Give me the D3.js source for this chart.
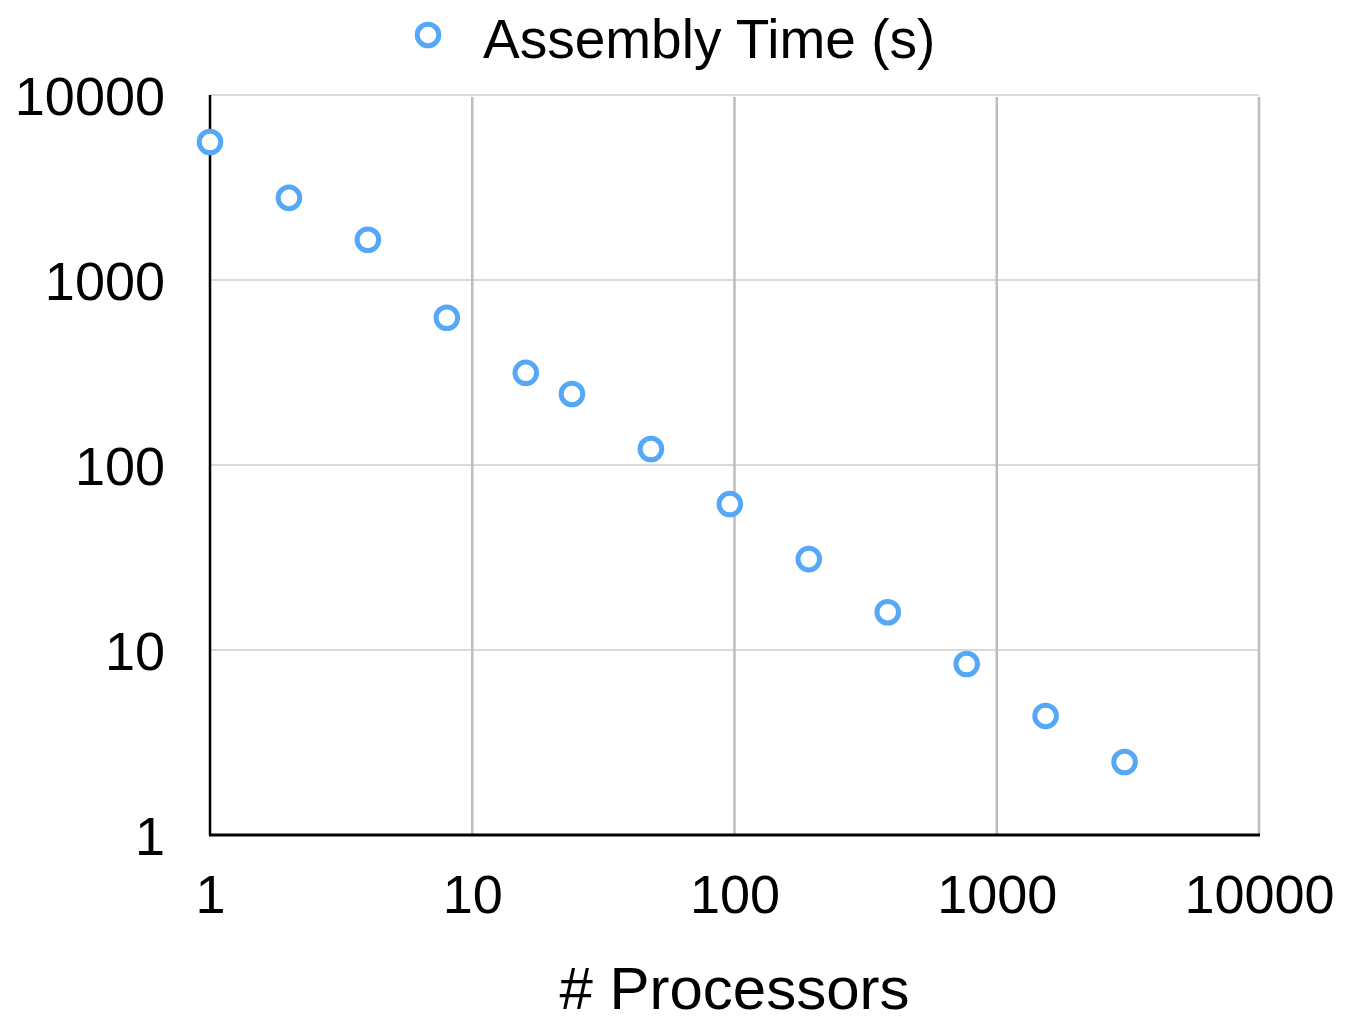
<!DOCTYPE html>
<html>
<head>
<meta charset="utf-8">
<script src="https://cdn.jsdelivr.net/npm/d3@7"></script>
<style>
  body { margin: 0; background: #fff; }
  text { font-family: "Liberation Sans", Helvetica, Arial, sans-serif; fill: #000; }
</style>
</head>
<body>
<div id="chart"></div>
<script>
var svgWidth = 1346;
var svgHeight = 1023;

// data
var processors = [1, 2, 4, 8, 16, 24, 48, 96, 192, 384, 768, 1536, 3072];
var assemblyTime = [5570, 2780, 1650, 625, 315, 242, 122, 61.5, 31, 16, 8.4, 4.4, 2.48];
var xTicks = [1, 10, 100, 1000, 10000];
var yTicks = [1, 10, 100, 1000, 10000];
var seriesName = "Assembly Time (s)";
var xTitle = "# Processors";

var plot = { left: 210, right: 1259, top: 95, bottom: 835 };
var pointColor = "#55a8f8";

var svg = d3.select("#chart").append("svg")
  .attr("width", svgWidth)
  .attr("height", svgHeight);

var xScale = d3.scaleLog()
  .domain([1, 10000])
  .range([plot.left, plot.right]);

var yScale = d3.scaleLog()
  .domain([1, 10000])
  .range([plot.bottom, plot.top]);

// horizontal grid
svg.append("g").selectAll("line")
  .data(yTicks.filter(d => d > 1))
  .enter().append("line")
  .attr("x1", plot.left).attr("x2", plot.right)
  .attr("y1", d => yScale(d)).attr("y2", d => yScale(d))
  .attr("stroke", "#cccccc")
  .attr("stroke-width", 1.5);

// vertical grid
svg.append("g").selectAll("line")
  .data(xTicks.filter(d => d > 1))
  .enter().append("line")
  .attr("x1", d => xScale(d)).attr("x2", d => xScale(d))
  .attr("y1", plot.top + 2).attr("y2", plot.bottom)
  .attr("stroke", "#bdbdbd")
  .attr("stroke-width", 2.5);

// axes (labels only, lines drawn below)
var yAxis = d3.axisLeft(yScale)
  .tickValues(yTicks)
  .tickFormat(d3.format("d"))
  .tickSize(0)
  .tickPadding(plot.left - 165);

var xAxis = d3.axisBottom(xScale)
  .tickValues(xTicks)
  .tickFormat(d3.format("d"))
  .tickSize(0)
  .tickPadding(40);

var gy = svg.append("g")
  .attr("transform", `translate(${plot.left}, 0)`)
  .call(yAxis);

var gx = svg.append("g")
  .attr("transform", `translate(0, ${plot.bottom})`)
  .call(xAxis);

[gx, gy].forEach(function(g) {
  g.select(".domain").remove();
  g.selectAll("text")
    .attr("font-family", "Liberation Sans, Helvetica, Arial, sans-serif")
    .attr("font-size", 54)
    .attr("fill", "#000");
});
gy.selectAll("text").attr("dy", "0.36em");

// axis lines
svg.append("line")
  .attr("x1", plot.left).attr("x2", plot.left)
  .attr("y1", plot.top).attr("y2", plot.bottom)
  .attr("stroke", "#000").attr("stroke-width", 2.5);

svg.append("line")
  .attr("x1", plot.left - 1).attr("x2", plot.right + 1)
  .attr("y1", plot.bottom).attr("y2", plot.bottom)
  .attr("stroke", "#000").attr("stroke-width", 3);

// points
svg.append("g").selectAll("circle")
  .data(processors)
  .enter().append("circle")
  .attr("cx", (d, i) => xScale(d))
  .attr("cy", (d, i) => yScale(assemblyTime[i]))
  .attr("r", 10.8)
  .attr("fill", "#fff")
  .attr("stroke", pointColor)
  .attr("stroke-width", 5);

// legend
svg.append("circle")
  .attr("cx", 428).attr("cy", 35)
  .attr("r", 10.8)
  .attr("fill", "#fff")
  .attr("stroke", pointColor)
  .attr("stroke-width", 5);

svg.append("text")
  .attr("x", 483).attr("y", 58)
  .attr("font-size", 55)
  .text(seriesName);

// x axis title
svg.append("text")
  .attr("x", (plot.left + plot.right) / 2)
  .attr("y", 1009)
  .attr("text-anchor", "middle")
  .attr("font-size", 60)
  .text(xTitle);
</script>
</body>
</html>
